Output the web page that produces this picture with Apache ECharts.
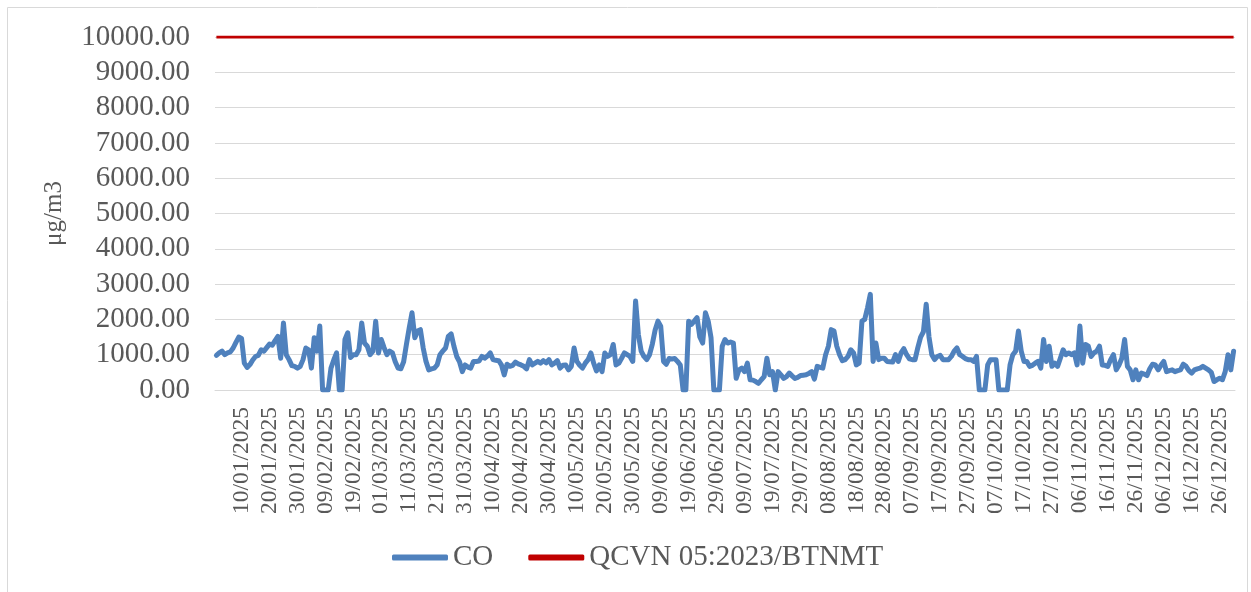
<!DOCTYPE html>
<html>
<head>
<meta charset="utf-8">
<script src="https://cdn.jsdelivr.net/npm/echarts@6/dist/echarts.min.js"></script>
<style>
  html, body { margin: 0; padding: 0; background: #fff; }
  #chart { width: 1251px; height: 592px; }
</style>
</head>
<body>
<div id="chart"></div>
<script>
// daily CO values 2025 (µg/m3)
var coValues = [
  980, 1050, 1100, 1000, 1050, 1080, 1190, 1350, 1500, 1460,
  760, 640, 720, 850, 950, 980, 1140, 1100, 1200, 1300,
  1270, 1400, 1520, 900, 1900, 1000, 860, 690, 670, 620,
  670, 860, 1190, 1140, 620, 1480, 1100, 1810, 0, 0,
  0, 620, 850, 1050, 0, 0, 1430, 1620, 920, 1000,
  1000, 1140, 1900, 1330, 1240, 1000, 1100, 1950, 1050, 1430,
  1200, 1000, 1100, 1050, 800, 620, 600, 800, 1290, 1760,
  2190, 1480, 1670, 1710, 1190, 810, 570, 600, 620, 710,
  1000, 1100, 1190, 1520, 1590, 1240, 950, 800, 520, 710,
  650, 620, 810, 810, 820, 950, 900, 960, 1050, 860,
  840, 830, 710, 430, 730, 670, 700, 790, 740, 710,
  670, 600, 860, 710, 760, 810, 760, 830, 770, 860,
  710, 760, 830, 620, 700, 710, 570, 670, 1190, 810,
  700, 620, 760, 860, 1050, 760, 540, 710, 520, 1050,
  950, 1000, 1290, 710, 760, 900, 1050, 1000, 950, 810,
  2520, 1570, 1100, 950, 860, 1000, 1300, 1700, 1950, 1810,
  810, 730, 890, 880, 890, 810, 710, 0, 0, 1950,
  1860, 1950, 2050, 1500, 1330, 2190, 1950, 1480, 0, 0,
  0, 1240, 1430, 1330, 1360, 1330, 330, 570, 620, 520,
  760, 290, 280, 240, 190, 290, 380, 900, 430, 520,
  0, 520, 430, 330, 380, 480, 400, 330, 360, 410,
  420, 430, 470, 520, 310, 670, 640, 620, 1000, 1240,
  1710, 1670, 1240, 1000, 830, 860, 950, 1140, 1050, 710,
  760, 1950, 2000, 2330, 2710, 810, 1330, 860, 900, 900,
  810, 800, 790, 1000, 810, 1050, 1170, 1000, 880, 860,
  860, 1200, 1500, 1650, 2430, 1500, 1000, 860, 950, 980,
  860, 860, 860, 950, 1100, 1190, 1000, 950, 890, 860,
  860, 810, 950, 0, 0, 0, 710, 860, 860, 860,
  0, 0, 0, 0, 710, 1000, 1100, 1670, 1100, 810,
  810, 670, 700, 760, 810, 620, 1430, 810, 1240, 670,
  760, 670, 900, 1140, 1000, 1050, 1000, 1050, 710, 1810,
  760, 1290, 1240, 950, 1050, 1100, 1240, 710, 700, 670,
  860, 1000, 570, 710, 900, 1430, 670, 570, 290, 570,
  290, 480, 450, 410, 600, 730, 710, 570, 700, 810,
  520, 550, 570, 520, 550, 570, 730, 670, 550, 480,
  570, 600, 620, 670, 620, 570, 500, 240, 290, 330,
  290, 520, 1000, 570, 1100
];

// QCVN 05:2023/BTNMT limit
var limitValue = 10000;

// categories: every day of 2025
var dates = [];
(function () {
  var d = new Date(Date.UTC(2025, 0, 1));
  while (d.getUTCFullYear() === 2025) {
    var dd = String(d.getUTCDate()).padStart(2, "0");
    var mm = String(d.getUTCMonth() + 1).padStart(2, "0");
    dates.push(dd + "/" + mm + "/2025");
    d.setUTCDate(d.getUTCDate() + 1);
  }
})();

var limitValues = dates.map(function () { return limitValue; });

var chartDom = document.getElementById("chart");
var myChart = echarts.init(chartDom);
var font = "'Liberation Serif', 'Times New Roman', serif";

var option = {
  animation: false,
  textStyle: { fontFamily: font, color: "#595959" },
  graphic: [
    {
      type: "rect",
      shape: { x: 7.5, y: 7.5, width: 1240, height: 590 },
      style: { fill: "none", stroke: "#D9D9D9", lineWidth: 1 },
      silent: true,
    },
  ],
  grid: {
    left: 215,
    right: 16,
    top: 37,
    bottom: 202,
  },
  legend: {
    left: 387,
    top: 538,
    itemGap: 35,
    itemWidth: 56,
    itemHeight: 6,
    textStyle: { fontFamily: font, fontSize: 29, color: "#595959" },
    data: [
      { name: "CO", icon: "roundRect" },
      { name: "QCVN 05:2023/BTNMT", icon: "roundRect" },
    ],
  },
  xAxis: {
    type: "category",
    data: dates,
    boundaryGap: true,
    axisLine: { lineStyle: { color: "#D9D9D9", width: 1 } },
    axisTick: {
      interval: 0,
      length: 6,
      lineStyle: { color: "#D9D9D9" },
    },
    axisLabel: {
      interval: function (index) {
        return index % 10 === 9;
      },
      rotate: 90,
      margin: 17,
      fontFamily: font,
      fontSize: 23.5,
      color: "#595959",
    },
    splitLine: { show: false },
  },
  yAxis: {
    type: "value",
    min: 0,
    max: 10000,
    interval: 1000,
    name: "μg/m3",
    nameLocation: "middle",
    nameGap: 148,
    nameTextStyle: { fontFamily: font, fontSize: 25, color: "#595959" },
    axisLine: { show: false },
    axisTick: { show: false },
    axisLabel: {
      margin: 25,
      fontFamily: font,
      fontSize: 29,
      color: "#595959",
      formatter: function (v) {
        return v.toFixed(2);
      },
    },
    splitLine: { lineStyle: { color: "#D9D9D9", width: 1 } },
  },
  series: [
    {
      name: "CO",
      type: "line",
      data: coValues,
      showSymbol: false,
      color: "#4F81BD",
      lineStyle: { width: 5, color: "#4F81BD", cap: "round", join: "round" },
      z: 3,
    },
    {
      name: "QCVN 05:2023/BTNMT",
      type: "line",
      data: limitValues,
      showSymbol: false,
      color: "#C00000",
      lineStyle: { width: 3, color: "#C00000" },
      z: 2,
    },
  ],
};

option && myChart.setOption(option);
</script>
</body>
</html>
